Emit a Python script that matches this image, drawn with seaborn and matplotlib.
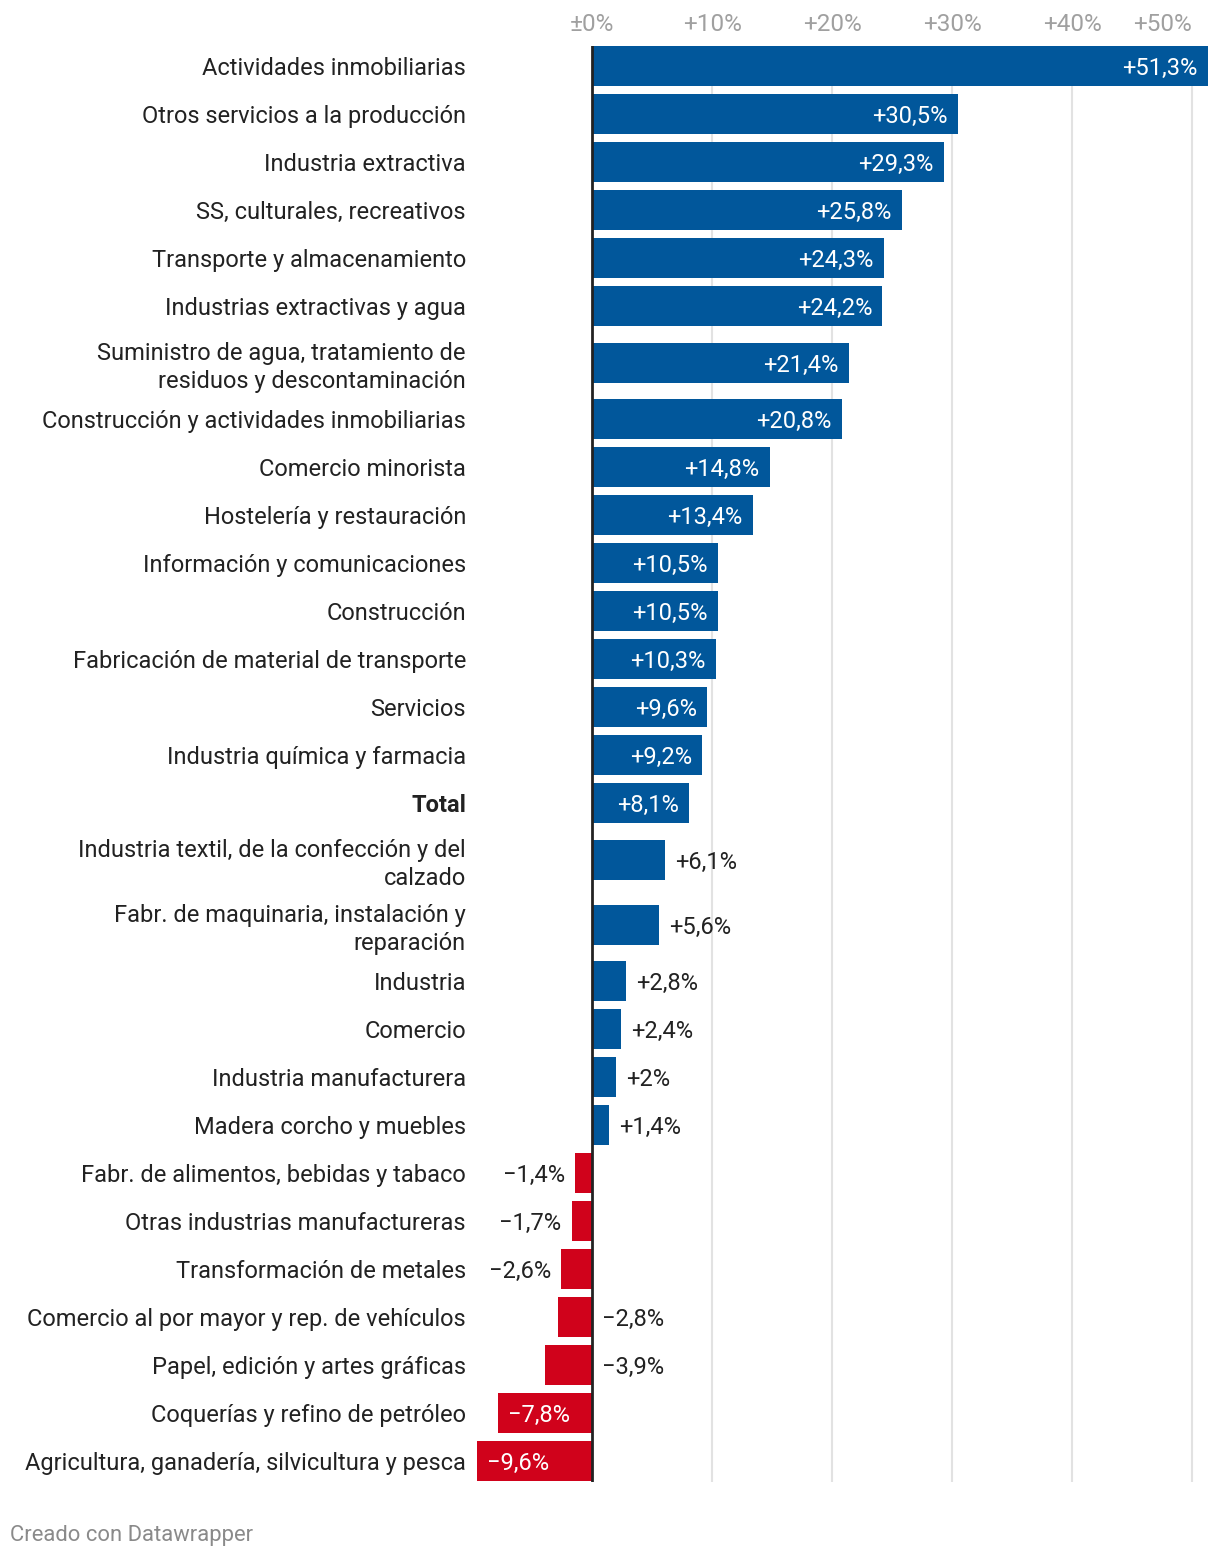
import seaborn as sns
import matplotlib.pyplot as plt
import pandas as pd

# Categories and change (%)
categories = [
    "Actividades inmobiliarias",
    "Otros servicios a la producción",
    "Industria extractiva",
    "SS, culturales, recreativos",
    "Transporte y almacenamiento",
    "Industrias extractivas y agua",
    "Suministro de agua, tratamiento de\nresiduos y descontaminación",
    "Construcción y actividades inmobiliarias",
    "Comercio minorista",
    "Hostelería y restauración",
    "Información y comunicaciones",
    "Construcción",
    "Fabricación de material de transporte",
    "Servicios",
    "Industria química y farmacia",
    "Total",
    "Industria textil, de la confección y del\ncalzado",
    "Fabr. de maquinaria, instalación y\nreparación",
    "Industria",
    "Comercio",
    "Industria manufacturera",
    "Madera corcho y muebles",
    "Fabr. de alimentos, bebidas y tabaco",
    "Otras industrias manufactureras",
    "Transformación de metales",
    "Comercio al por mayor y rep. de vehículos",
    "Papel, edición y artes gráficas",
    "Coquerías y refino de petróleo",
    "Agricultura, ganadería, silvicultura y pesca",
]
values = [51.3, 30.5, 29.3, 25.8, 24.3, 24.2, 21.4, 20.8, 14.8, 13.4, 10.5, 10.5,
          10.3, 9.6, 9.2, 8.1, 6.1, 5.6, 2.8, 2.4, 2.0, 1.4, -1.4, -1.7, -2.6,
          -2.8, -3.9, -7.8, -9.6]
tick_values = [0, 10, 20, 30, 40, 50]
tick_labels = ["±0%", "+10%", "+20%", "+30%", "+40%", "+50%"]

BLUE = "#01579b"
RED = "#d0021b"
DARK = "#222222"
FS = 17

# row positions (pixel-like units), two-line labels get extra room
extra = [c.count("\n") for c in categories]
pos = [66.0]
for i in range(1, len(categories)):
    pos.append(pos[-1] + 48 + 8.5 * (extra[i - 1] + extra[i]))

df = pd.DataFrame({"cat": categories, "val": values, "pos": pos})
df["sign"] = ["pos" if v >= 0 else "neg" for v in values]

plt.rcParams["font.family"] = ["Roboto", "DejaVu Sans"]
fig = plt.figure(figsize=(12.2, 15.6), dpi=100)
W, H = 1220, 1560
x0, x1 = -9.7, 51.35
left_px, right_px = 592 + x0 * 12, 592 + x1 * 12
top_px, bot_px = 46, 1482
ax = fig.add_axes([left_px / W, 1 - bot_px / H, (right_px - left_px) / W, (bot_px - top_px) / H])

sns.barplot(data=df, x="val", y="pos", hue="sign", orient="h", native_scale=True,
            palette={"pos": BLUE, "neg": RED}, dodge=False, legend=False,
            width=40 / 48, saturation=1, ax=ax, zorder=2)

ax.set_xlim(x0, x1)
ax.set_ylim(bot_px, top_px)
ax.set_xlabel("")
ax.set_ylabel("")
for s in ax.spines.values():
    s.set_visible(False)

# grid + zero line
for t in tick_values[1:]:
    ax.axvline(t, color="#e2e2e2", lw=1.5, zorder=0)
ax.axvline(0, color=DARK, lw=2, zorder=3)

# top tick labels
ax.xaxis.tick_top()
ax.set_xticks(tick_values)
ax.set_xticklabels(tick_labels, fontsize=17.5, color="#a0a0a0")
ax.tick_params(axis="x", length=0, pad=7)
ax.get_xticklabels()[-1].set_ha("right")

# category labels
ax.set_yticks(pos)
ax.set_yticklabels(categories, fontsize=FS, color=DARK, linespacing=1.27)
ax.tick_params(axis="y", length=0, pad=7)
for lab in ax.get_yticklabels():
    if lab.get_text() == "Total":
        lab.set_fontweight("bold")


def fmt(v):
    s = f"{abs(v):.1f}".replace(".", ",")
    if s.endswith(",0"):
        s = s[:-2]
    return ("+" if v >= 0 else "−") + s + "%"


off = 10 / 12  # 10 px in data units
kw = dict(va="center_baseline", fontsize=FS, zorder=4)
for v, p in zip(values, pos):
    txt = fmt(v)
    if v >= 0:
        if v >= 7:
            ax.text(v - off, p, txt, ha="right", color="white", **kw)
        else:
            ax.text(v + off, p, txt, ha="left", color=DARK, **kw)
    else:
        if v <= -7:
            ax.text(v + off, p, txt, ha="left", color="white", **kw)
        elif v > -2.7:
            ax.text(v - off, p, txt, ha="right", color=DARK, **kw)
        else:
            ax.text(off, p, txt, ha="left", color=DARK, **kw)

fig.text(10 / W, 1 - 1536 / H, "Creado con Datawrapper", fontsize=15.8, color="#8a8a8a",
         ha="left", va="center")

fig.savefig("out.png", dpi=100, facecolor="white")
